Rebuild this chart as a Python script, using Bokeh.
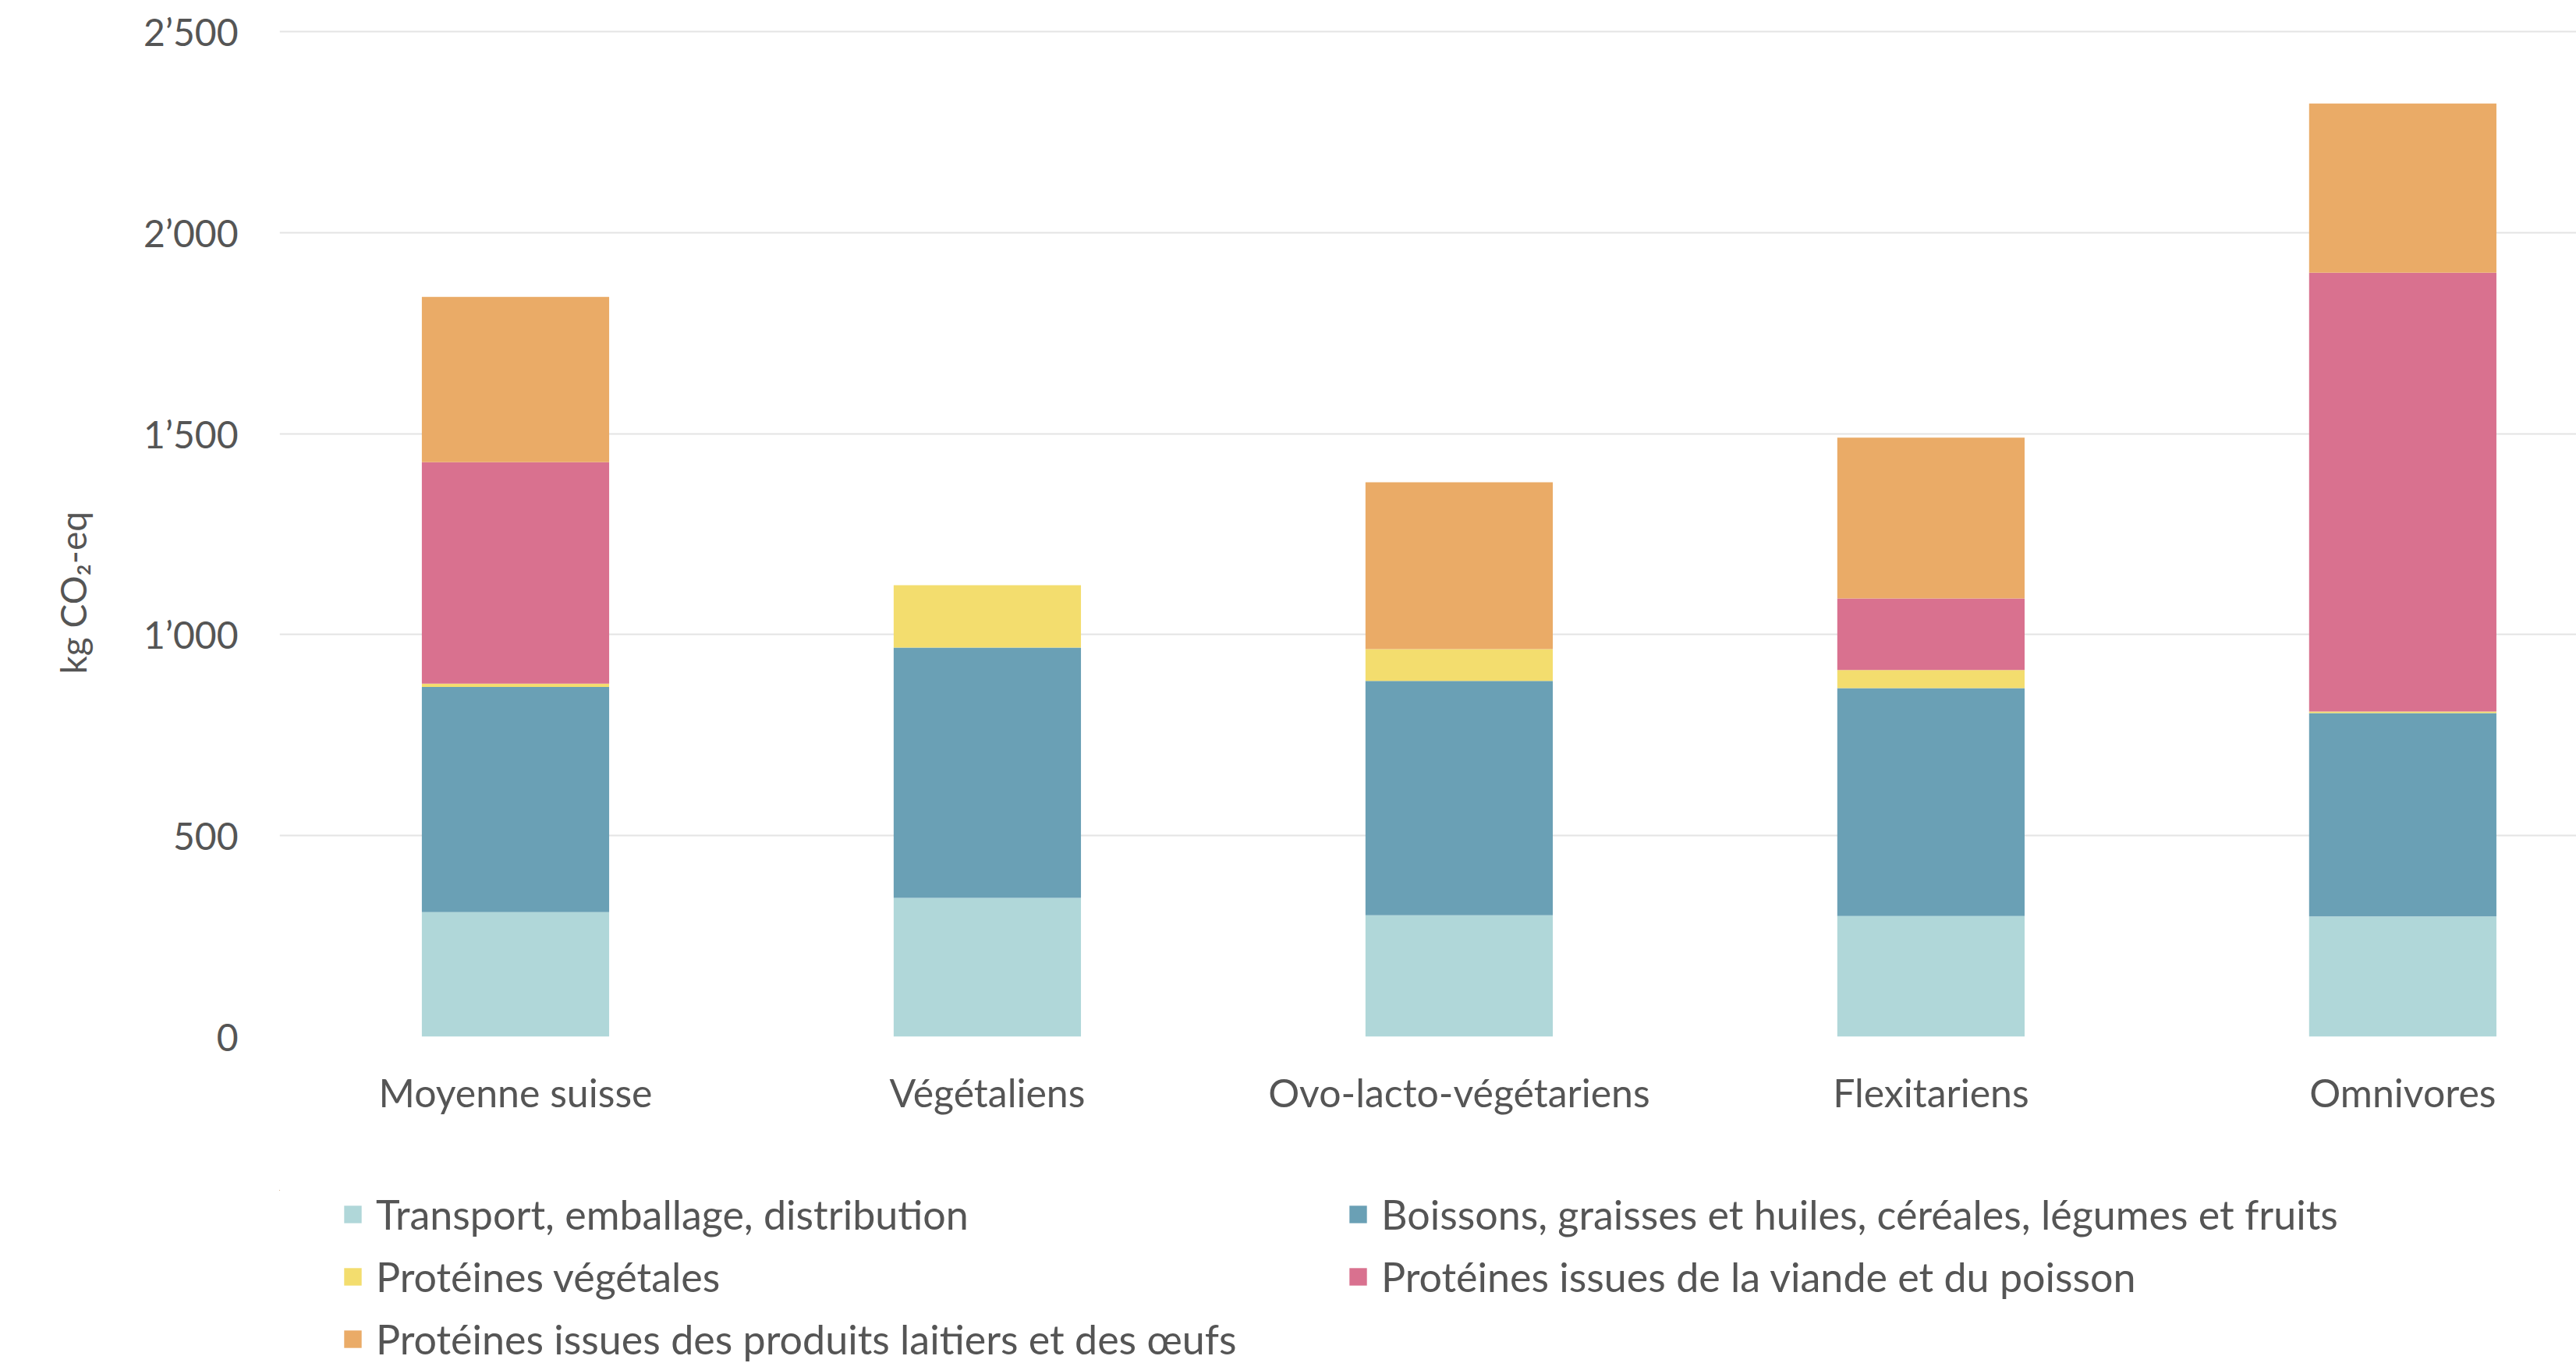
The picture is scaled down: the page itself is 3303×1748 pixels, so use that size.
from bokeh.plotting import figure
from bokeh.layouts import column
from bokeh.models import Range1d, FixedTicker, Legend, LegendItem, Title
from bokeh.embed import file_html
from bokeh.resources import INLINE

# ---- data ----
categories = ["Moyenne suisse", "Végétaliens", "Ovo-lacto-végétariens", "Flexitariens", "Omnivores"]
transport = [310, 345, 302, 300, 299]
boissons = [560, 623, 583, 567, 506]
proteines_vegetales = [8, 155, 79, 45, 4]
proteines_viande = [551, 0, 0, 178, 1091]
proteines_laitiers = [411, 0, 415, 400, 421]

series_keys = ["transport", "boissons", "prot_veg", "viande", "laitiers"]
series_labels = [
    "Transport, emballage, distribution",
    "Boissons, graisses et huiles, céréales, légumes et fruits",
    "Protéines végétales",
    "Protéines issues de la viande et du poisson",
    "Protéines issues des produits laitiers et des œufs",
]
series_colors = ["#b0d7d9", "#6aa0b5", "#f3dd6e", "#d9718f", "#eaab67"]
y_ticks = [0, 500, 1000, 1500, 2000, 2500]
y_title = "kg CO₂-eq"

FONT = "Lato"
TXT = "#555555"

x_pos = list(range(len(categories)))
source = dict(x=x_pos, transport=transport, boissons=boissons, prot_veg=proteines_vegetales,
              viande=proteines_viande, laitiers=proteines_laitiers)

p = figure(width=3303, height=1526, output_backend="svg", toolbar_location=None,
           x_range=Range1d(-0.5, 4.368), y_range=Range1d(0, 2523.3),
           min_border_left=358, min_border_right=0, min_border_top=28, min_border_bottom=197)
p.outline_line_color = None

p.vbar_stack(series_keys, x="x", width=0.397, fill_color=series_colors,
             line_color=None, source=source)

# axes
p.yaxis.ticker = FixedTicker(ticks=y_ticks)
p.yaxis.major_label_overrides = {t: f"{t:,}".replace(",", "’") for t in y_ticks}
p.xaxis.ticker = FixedTicker(ticks=x_pos)
p.xaxis.major_label_overrides = {i: c for i, c in zip(x_pos, categories)}
for ax in (p.xaxis, p.yaxis):
    ax.axis_line_color = None
    ax.major_tick_line_color = None
    ax.minor_tick_line_color = None
    ax.major_label_text_font = FONT
    ax.major_label_text_color = TXT
p.yaxis.major_label_text_font_size = "48px"
p.xaxis.major_label_text_font_size = "50px"
p.yaxis.major_label_standoff = 47
p.xaxis.major_label_standoff = 35

p.xgrid.grid_line_color = None
p.ygrid.grid_line_color = "#e4e4e4"
p.ygrid.grid_line_width = 2

# y title
p.add_layout(Title(text=y_title, align="left", offset=465, standoff=120, text_font=FONT,
                   text_font_size="46px", text_font_style="normal", text_color=TXT), "left")

# ---- legend strip (same stacked series, kept far outside its visible ranges) ----
pl = figure(width=3303, height=222, output_backend="svg", toolbar_location=None,
            x_range=Range1d(100, 101), y_range=Range1d(-200000, -199999),
            x_axis_type=None, y_axis_type=None,
            min_border_left=0, min_border_right=0, min_border_top=0, min_border_bottom=0)
pl.outline_line_color = None
pl.grid.grid_line_color = None
swatches = pl.vbar_stack(series_keys, x="x", width=0.397, fill_color=series_colors,
                         line_color=None, source=source)


def make_legend(idx, loc):
    leg = Legend(items=[LegendItem(label=series_labels[i], renderers=[swatches[i]]) for i in idx],
                 location=loc, orientation="vertical")
    leg.label_text_font = FONT
    leg.label_text_font_size = "52px"
    leg.label_text_color = TXT
    leg.glyph_width = 28
    leg.glyph_height = 28
    leg.label_standoff = 16
    leg.label_height = 62
    leg.spacing = 18
    leg.padding = 0
    leg.margin = 0
    leg.border_line_color = None
    leg.background_fill_alpha = 0
    return leg


# locations relative to the (aligned) frame's left edge
pl.add_layout(make_legend([0, 2, 4], (80, 0)))
pl.add_layout(make_legend([1, 3], (1369, 80)))

layout = column(p, pl, spacing=0)
open("out.html", "w").write(file_html(layout, INLINE))
